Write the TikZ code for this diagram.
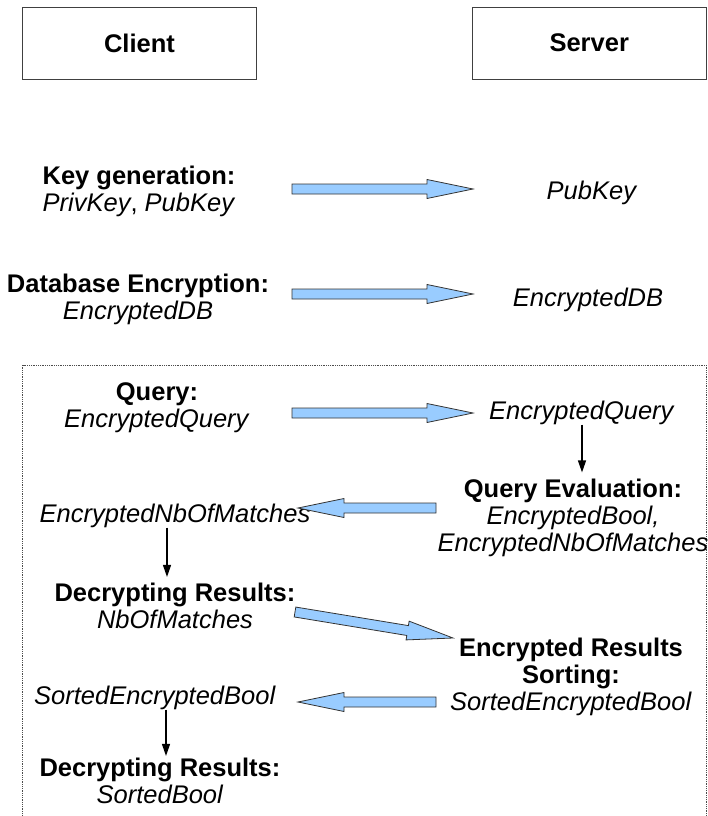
\documentclass[tikz,border=0pt]{standalone}
\usepackage{fontspec}
\setmainfont{Liberation Sans}
\usetikzlibrary{calc,arrows.meta}
\definecolor{arrowblue}{RGB}{153,204,255}

% wide blue arrow from #1 to #2
\newcommand{\fatarrow}[2]{%
  \coordinate (head) at ($(#2)!46pt!(#1)$);
  \draw[fatarr] ($(#1)!5pt!90:(#2)$) -- ($(head)!5pt!90:(#2)$) -- ($(head)!9.5pt!90:(#2)$) -- (#2)
    -- ($(head)!9.5pt!-90:(#2)$) -- ($(head)!5pt!-90:(#2)$) -- ($(#1)!5pt!-90:(#2)$) -- cycle;}

\begin{document}
\begin{tikzpicture}[x=1pt,y=-1pt,
    every node/.style={font=\fontsize{25.5}{27}\selectfont, align=center, inner sep=0pt},
    box/.style={draw=black!75, minimum width=234pt, minimum height=72pt},
    fatarr/.style={draw=black!80, fill=arrowblue, line width=0.8pt},
    linkarr/.style={-{Triangle[length=12pt,width=8pt]}, line width=1.2pt}]
  \useasboundingbox (0,0) rectangle (707,816);
  \node[box] (client) at (139.5,43) {\textbf{Client}};
  \node[box] (server) at (589.25,43) {\textbf{Server}};
  %key generation
  \node (keygen) at (139,191) {\textbf{Key generation:}\\\textit{PrivKey}, \textit{PubKey}};
  \node (pubkey) at (592,192.5) {\textit{PubKey}};
  \coordinate (k1) at (292,189);
  \coordinate (k2) at (473,189);
  \fatarrow{k1}{k2}
  %database encryption
  \node (dbenc) at (138,299) {\textbf{Database Encryption:}\\\textit{EncryptedDB}};
  \node (encdb) at (588,299.5) {\textit{EncryptedDB}};
  \coordinate (d1) at (292,294);
  \coordinate (d2) at (473,294);
  \fatarrow{d1}{d2}
  %query
  \draw[densely dotted, draw=black!70, line width=0.8pt] (22.5,830) -- (22.5,365) -- (706,365) -- (706,830);
  \node (query) at (157,408) {\textbf{Query:}\\\textit{EncryptedQuery}};
  \node (encq) at (582,412.5) {\textit{EncryptedQuery}};
  \coordinate (q1) at (292,413);
  \coordinate (q2) at (473,413);
  \fatarrow{q1}{q2}
  \node (qeval) at (573,517.5) {\textbf{Query Evaluation:}\\\textit{EncryptedBool,}\\\textit{EncryptedNbOfMatches}};
  \draw[linkarr, shorten >=6pt] (encq.south) -- (encq.south |- qeval.north);
  \node (nbenc) at (175,515.5) {\textit{EncryptedNbOfMatches}};
  \coordinate (m1) at (436,508);
  \coordinate (m2) at (298,508);
  \fatarrow{m1}{m2}
  %decrypting
  \node (dec1) at (175,606) {\textbf{Decrypting Results:}\\\textit{NbOfMatches}};
  \draw[linkarr, shorten >=6pt] ([xshift=-8pt]nbenc.south) -- ([xshift=-8pt]nbenc.south |- dec1.north);
  \node (sortenc) at (571,676.5) {\textbf{Encrypted Results}\\\textbf{Sorting:}\\\textit{SortedEncryptedBool}};
  \coordinate (s1) at (295,612);
  \coordinate (s2) at (453,638);
  \fatarrow{s1}{s2}
  \node (sortbool) at (155,697.5) {\textit{SortedEncryptedBool}};
  \coordinate (r1) at (436,702);
  \coordinate (r2) at (298,702);
  \fatarrow{r1}{r2}
  \node (dec2) at (160,781) {\textbf{Decrypting Results:}\\\textit{SortedBool}};
  \draw[linkarr, shorten >=2pt] ([xshift=11pt]sortbool.south) -- ([xshift=11pt]sortbool.south |- dec2.north);
\end{tikzpicture}
\end{document}
